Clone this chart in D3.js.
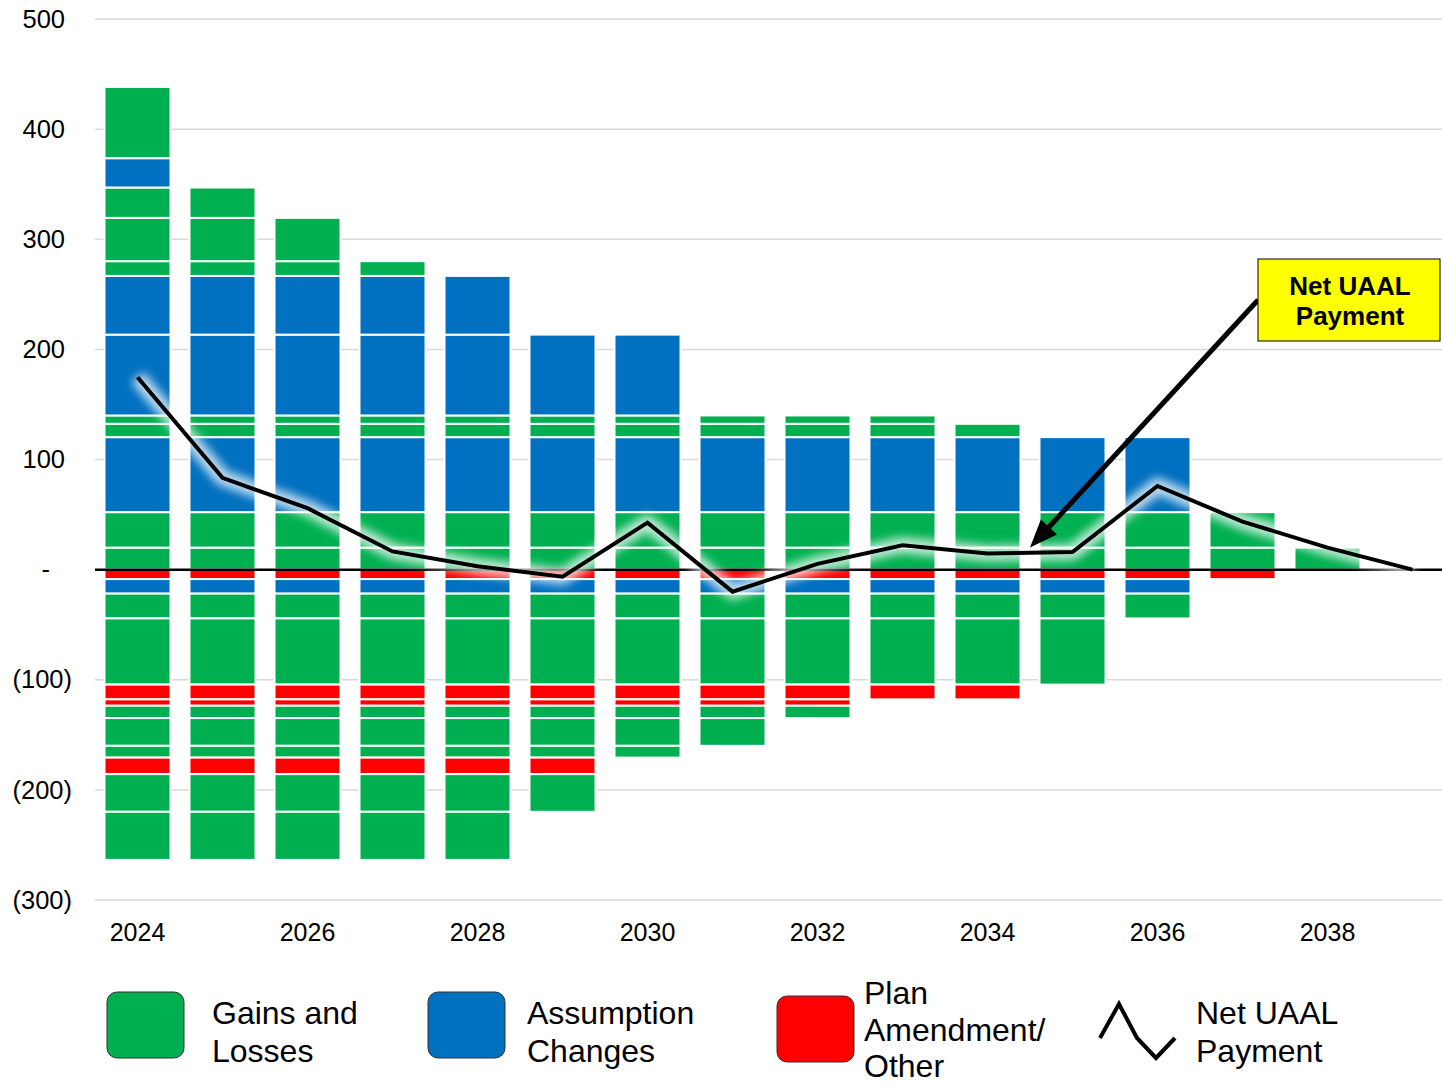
<!DOCTYPE html>
<html>
<head>
<meta charset="utf-8">
<script src="https://cdn.jsdelivr.net/npm/d3@7"></script>
<style>
  html, body { margin: 0; padding: 0; background: #ffffff; }
  svg { display: block; font-family: "Liberation Sans", Arial, sans-serif; }
</style>
</head>
<body>
<svg id="chart" width="1442" height="1085"></svg>
<script>
// Fiscal years shown on the x axis (2039 only carries the closing net payment)
const years = [2024, 2025, 2026, 2027, 2028, 2029, 2030, 2031, 2032, 2033, 2034, 2035, 2036, 2037, 2038, 2039];
const xTickYears = [2024, 2026, 2028, 2030, 2032, 2034, 2036, 2038];
const yTicks = [500, 400, 300, 200, 100, 0, -100, -200, -300];

// Amortization layers above zero, listed from the axis upward
const positiveTypes = ["gl", "gl", "ac", "gl", "gl", "ac", "ac", "gl", "gl", "gl", "ac", "gl"];
const positiveLayers = [
  [20.0, 20.0, 20.0, 20.0, 20.0, 20.0, 20.0, 20.0, 20.0, 20.0, 20.0, 20.0, 20.0, 20.0, 20.0, 0],
  [32.2, 32.2, 32.2, 32.2, 32.2, 32.2, 32.2, 32.2, 32.2, 32.2, 32.2, 32.2, 32.2, 32.2, 0, 0],
  [68.1, 68.1, 68.1, 68.1, 68.1, 68.1, 68.1, 68.1, 68.1, 68.1, 68.1, 68.1, 68.1, 0, 0, 0],
  [12.1, 12.1, 12.1, 12.1, 12.1, 12.1, 12.1, 12.1, 12.1, 12.1, 12.1, 0, 0, 0, 0, 0],
  [7.6, 7.6, 7.6, 7.6, 7.6, 7.6, 7.6, 7.6, 7.6, 7.6, 0, 0, 0, 0, 0, 0],
  [73.4, 73.4, 73.4, 73.4, 73.4, 73.4, 73.4, 0, 0, 0, 0, 0, 0, 0, 0, 0],
  [53.3, 53.3, 53.3, 53.3, 53.3, 0, 0, 0, 0, 0, 0, 0, 0, 0, 0, 0],
  [13.4, 13.4, 13.4, 13.4, 0, 0, 0, 0, 0, 0, 0, 0, 0, 0, 0, 0],
  [39.3, 39.3, 39.3, 0, 0, 0, 0, 0, 0, 0, 0, 0, 0, 0, 0, 0],
  [27.6, 27.6, 0, 0, 0, 0, 0, 0, 0, 0, 0, 0, 0, 0, 0, 0],
  [26.6, 0, 0, 0, 0, 0, 0, 0, 0, 0, 0, 0, 0, 0, 0, 0],
  [64.7, 0, 0, 0, 0, 0, 0, 0, 0, 0, 0, 0, 0, 0, 0, 0]
];

// Amortization layers below zero, listed from the axis downward
const negativeTypes = ["pa", "ac", "gl", "gl", "pa", "pa", "gl", "gl", "gl", "pa", "gl", "gl"];
const negativeLayers = [
  [-8.6, -8.6, -8.6, -8.6, -8.6, -8.6, -8.6, -8.6, -8.6, -8.6, -8.6, -8.6, -8.6, -8.6, 0, 0],
  [-13.2, -13.2, -13.2, -13.2, -13.2, -13.2, -13.2, -13.2, -13.2, -13.2, -13.2, -13.2, -13.2, 0, 0, 0],
  [-22.5, -22.5, -22.5, -22.5, -22.5, -22.5, -22.5, -22.5, -22.5, -22.5, -22.5, -22.5, -22.5, 0, 0, 0],
  [-60.1, -60.1, -60.1, -60.1, -60.1, -60.1, -60.1, -60.1, -60.1, -60.1, -60.1, -60.1, 0, 0, 0, 0],
  [-13.4, -13.4, -13.4, -13.4, -13.4, -13.4, -13.4, -13.4, -13.4, -13.4, -13.4, 0, 0, 0, 0, 0],
  [-5.8, -5.8, -5.8, -5.8, -5.8, -5.8, -5.8, -5.8, -5.8, 0, 0, 0, 0, 0, 0, 0],
  [-11.2, -11.2, -11.2, -11.2, -11.2, -11.2, -11.2, -11.2, -11.2, 0, 0, 0, 0, 0, 0, 0],
  [-25.2, -25.2, -25.2, -25.2, -25.2, -25.2, -25.2, -25.2, 0, 0, 0, 0, 0, 0, 0, 0],
  [-10.7, -10.7, -10.7, -10.7, -10.7, -10.7, -10.7, 0, 0, 0, 0, 0, 0, 0, 0, 0],
  [-15.0, -15.0, -15.0, -15.0, -15.0, -15.0, 0, 0, 0, 0, 0, 0, 0, 0, 0, 0],
  [-34.2, -34.2, -34.2, -34.2, -34.2, -34.2, 0, 0, 0, 0, 0, 0, 0, 0, 0, 0],
  [-43.7, -43.7, -43.7, -43.7, -43.7, 0, 0, 0, 0, 0, 0, 0, 0, 0, 0, 0]
];

// Net UAAL payment per year
const netPayment = [174.7, 83.4, 55.8, 16.5, 3.1, -6.5, 42.7, -20.0, 5.2, 22.2, 14.6, 15.9, 76.0, 43.6, 20.0, 0];

const typeColors = { gl: "#00B050", ac: "#0070C0", pa: "#FF0000" };
const legendItems = [
  { type: "gl", lines: ["Gains and", "Losses"] },
  { type: "ac", lines: ["Assumption", "Changes"] },
  { type: "pa", lines: ["Plan", "Amendment/", "Other"] },
  { type: "line", lines: ["Net UAAL", "Payment"] }
];
const calloutLines = ["Net UAAL", "Payment"];

// ---- scales ----
const svg = d3.select("#chart");
const step = 85;
const pad = 0.2235;
const x = d3.scaleBand()
  .domain(years)
  .range([95, 95 + step * years.length])
  .paddingInner(pad)
  .paddingOuter(pad / 2);
const y = d3.scaleLinear().domain([-300, 500]).range([900, 19]);
const xc = yr => x(yr) + x.bandwidth() / 2;

// ---- gridlines ----
svg.append("g")
  .selectAll("line")
  .data(yTicks.filter(v => v !== 0))
  .join("line")
  .attr("x1", 95).attr("x2", 1442)
  .attr("y1", d => y(d)).attr("y2", d => y(d))
  .attr("stroke", "#d9d9d9").attr("stroke-width", 1.5);

// ---- stacked layers ----
const keys = [];
const keyType = {};
positiveLayers.forEach((arr, i) => { keys.push("p" + i); keyType["p" + i] = positiveTypes[i]; });
negativeLayers.forEach((arr, i) => { keys.push("n" + i); keyType["n" + i] = negativeTypes[i]; });
const table = years.map((yr, j) => {
  const row = { year: yr };
  positiveLayers.forEach((arr, i) => row["p" + i] = arr[j]);
  negativeLayers.forEach((arr, i) => row["n" + i] = arr[j]);
  return row;
});
const series = d3.stack().keys(keys).offset(d3.stackOffsetDiverging)(table);

svg.append("g")
  .selectAll("g")
  .data(series)
  .join("g")
  .attr("fill", s => typeColors[keyType[s.key]])
  .selectAll("rect")
  .data(s => s.filter(d => d[1] - d[0] !== 0))
  .join("rect")
  .attr("x", d => x(d.data.year))
  .attr("width", x.bandwidth())
  .attr("y", d => y(Math.max(d[0], d[1])))
  .attr("height", d => Math.abs(y(d[0]) - y(d[1])))
  .attr("stroke", "#ffffff")
  .attr("stroke-width", 2);

// ---- zero line ----
svg.append("line")
  .attr("x1", 95).attr("x2", 1442)
  .attr("y1", y(0)).attr("y2", y(0))
  .attr("stroke", "#000").attr("stroke-width", 2.5);

// ---- axes ----
const fmt = v => v === 0 ? "-" : (v < 0 ? "(" + Math.abs(v) + ")" : String(v));
const yAxis = svg.append("g")
  .attr("transform", "translate(72,0)")
  .call(d3.axisLeft(y).tickValues(yTicks).tickFormat(fmt).tickSize(0).tickPadding(0));
yAxis.select(".domain").remove();
yAxis.selectAll("text")
  .attr("font-family", "Liberation Sans, Arial, sans-serif")
  .attr("font-size", 25.5)
  .attr("fill", "#000")
  .attr("x", d => d > 0 ? -7 : (d === 0 ? -22 : 0));

const xAxis = svg.append("g")
  .attr("transform", "translate(0,923)")
  .call(d3.axisBottom(x).tickValues(xTickYears).tickSize(0).tickPadding(0));
xAxis.select(".domain").remove();
xAxis.selectAll("text")
  .attr("font-family", "Liberation Sans, Arial, sans-serif")
  .attr("font-size", 25)
  .attr("fill", "#000")
  .attr("dy", "0.71em");

// ---- net payment line with soft glow ----
const defs = svg.append("defs");
defs.append("filter").attr("id", "glow")
  .attr("x", "-10%").attr("y", "-30%").attr("width", "120%").attr("height", "160%")
  .append("feGaussianBlur").attr("stdDeviation", 5);

const line = d3.line().x((d, i) => xc(years[i])).y(d => y(d));
svg.append("path")
  .datum(netPayment)
  .attr("d", line)
  .attr("fill", "none")
  .attr("stroke", "#ffffff")
  .attr("stroke-opacity", 0.75)
  .attr("stroke-width", 16)
  .attr("stroke-linejoin", "round")
  .attr("filter", "url(#glow)");
svg.append("path")
  .datum(netPayment)
  .attr("d", line)
  .attr("fill", "none")
  .attr("stroke", "#000")
  .attr("stroke-width", 4)
  .attr("stroke-linejoin", "miter");

// ---- callout ----
const boxX = 1258, boxY = 259, boxW = 182, boxH = 82;
const tipX = xc(2034) + step / 2, tipY = y(20);
const startX = boxX, startY = boxY + 41;
const ang = Math.atan2(tipY - startY, tipX - startX);
const headLen = 28, headHalf = 11;
const baseX = tipX - headLen * Math.cos(ang), baseY = tipY - headLen * Math.sin(ang);
svg.append("line")
  .attr("x1", startX).attr("y1", startY)
  .attr("x2", baseX + 4 * Math.cos(ang)).attr("y2", baseY + 4 * Math.sin(ang))
  .attr("stroke", "#000").attr("stroke-width", 5);
svg.append("path")
  .attr("d", `M${tipX},${tipY}L${baseX - headHalf * Math.sin(ang)},${baseY + headHalf * Math.cos(ang)}L${baseX + headHalf * Math.sin(ang)},${baseY - headHalf * Math.cos(ang)}Z`)
  .attr("fill", "#000");

svg.append("rect")
  .attr("x", boxX).attr("y", boxY).attr("width", boxW).attr("height", boxH)
  .attr("fill", "#FFFF00").attr("stroke", "#000").attr("stroke-width", 1);
svg.append("g")
  .selectAll("text")
  .data(calloutLines)
  .join("text")
  .attr("x", boxX + boxW / 2 + 1)
  .attr("y", (d, i) => 295 + i * 30)
  .attr("text-anchor", "middle")
  .attr("font-size", 26)
  .attr("font-weight", "bold")
  .attr("fill", "#000")
  .text(d => d);

// ---- legend ----
const legendPos = [
  { sx: 107, sy: 992, tx: 212, ty: 1024, gap: 37.5 },
  { sx: 428, sy: 992, tx: 527, ty: 1024, gap: 37.5 },
  { sx: 777, sy: 996, tx: 864, ty: 1004, gap: 36.5 },
  { sx: 1100, sy: 1000, tx: 1196, ty: 1024, gap: 37.5 }
];
const lg = svg.append("g");
legendItems.forEach((item, i) => {
  const p = legendPos[i];
  if (item.type === "line") {
    const pts = [[0, 38], [19, 4], [37, 38], [56, 58], [75, 38]];
    lg.append("path")
      .attr("d", d3.line()(pts.map(q => [p.sx + q[0], p.sy + q[1]])))
      .attr("fill", "none").attr("stroke", "#000").attr("stroke-width", 4);
  } else {
    lg.append("rect")
      .attr("x", p.sx).attr("y", p.sy).attr("width", 77).attr("height", 66)
      .attr("rx", 10).attr("ry", 10)
      .attr("fill", typeColors[item.type])
      .attr("stroke", "#333").attr("stroke-width", 1);
  }
  item.lines.forEach((t, k) => {
    lg.append("text")
      .attr("x", p.tx).attr("y", p.ty + k * p.gap)
      .attr("font-size", 32)
      .attr("fill", "#000")
      .text(t);
  });
});
</script>
</body>
</html>
